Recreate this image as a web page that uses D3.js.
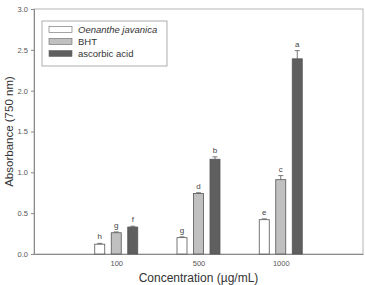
<!DOCTYPE html>
<html>
<head>
<meta charset="utf-8">
<script src="https://d3js.org/d3.v7.min.js"></script>
<style>
  body { margin: 0; background: #fff; }
  text { font-family: "Liberation Sans", Arial, sans-serif; }
</style>
</head>
<body>
<div id="chart"></div>
<script>
// data
var concentrations = ["100", "500", "1000"];
var seriesNames = ["Oenanthe javanica", "BHT", "ascorbic acid"];
var oenanthe = [0.12, 0.20, 0.42];
var bht = [0.26, 0.74, 0.91];
var ascorbic = [0.33, 1.16, 2.39];
var oenantheErr = [0.01, 0.01, 0.01];
var bhtErr = [0.01, 0.01, 0.05];
var ascorbicErr = [0.01, 0.03, 0.10];
var oenantheLetters = ["h", "g", "e"];
var bhtLetters = ["g", "d", "c"];
var ascorbicLetters = ["f", "b", "a"];
var yTicks = [0, 0.5, 1.0, 1.5, 2.0, 2.5, 3.0];

var colors = ["#ffffff", "#c0c0c0", "#5f5f5f"];
var seriesVals = [oenanthe, bht, ascorbic];
var seriesErr = [oenantheErr, bhtErr, ascorbicErr];
var seriesLetters = [oenantheLetters, bhtLetters, ascorbicLetters];

var W = 365, H = 285;
var margin = {top: 9, right: 2, bottom: 31, left: 34};

var svg = d3.select("#chart").append("svg")
    .attr("width", W)
    .attr("height", H);

var x = d3.scaleLinear().domain([0, 4]).range([margin.left, W - margin.right]);
var y = d3.scaleLinear().domain([0, 3]).range([H - margin.bottom, margin.top]);

var barW = 10, step = 16.5;
var axisCol = "#8a8a8a";

// frame
svg.append("rect")
    .attr("x", x(0)).attr("y", y(3))
    .attr("width", x(4) - x(0)).attr("height", y(0) - y(3))
    .attr("fill", "none").attr("stroke", "#b5b5b5").attr("stroke-width", 1);

// y axis
var yAxis = svg.append("g")
    .attr("transform", "translate(" + x(0) + ",0)")
    .call(d3.axisLeft(y).tickValues(yTicks).tickFormat(d3.format(".1f")).tickSize(3).tickPadding(3));
yAxis.select(".domain").attr("stroke", axisCol);
yAxis.selectAll("line").attr("stroke", axisCol);
yAxis.selectAll("text").attr("fill", "#555").style("font-size", "7.5px");

// x axis
var xAxis = svg.append("g")
    .attr("transform", "translate(0," + y(0) + ")")
    .call(d3.axisBottom(x).tickValues([1, 2, 3]).tickFormat(function(d) { return concentrations[d - 1]; }).tickSize(0).tickPadding(7));
xAxis.select(".domain").attr("stroke", axisCol);
xAxis.selectAll("text").attr("fill", "#555").style("font-size", "7.5px");

// bars
seriesVals.forEach(function(vals, s) {
  var g = svg.append("g");
  vals.forEach(function(v, i) {
    var cx = x(i + 1) + (s - 1) * step;
    var top = y(v + seriesErr[s][i]);
    g.append("line")
        .attr("x1", cx).attr("x2", cx)
        .attr("y1", y(v)).attr("y2", top)
        .attr("stroke", "#777").attr("stroke-width", 1);
    g.append("line")
        .attr("x1", cx - 2.5).attr("x2", cx + 2.5)
        .attr("y1", top).attr("y2", top)
        .attr("stroke", "#777").attr("stroke-width", 1);
    g.append("rect")
        .attr("x", cx - barW / 2).attr("y", y(v))
        .attr("width", barW).attr("height", y(0) - y(v))
        .attr("fill", colors[s]).attr("stroke", "#555").attr("stroke-width", 0.8);
    g.append("text")
        .attr("x", cx).attr("y", top - 4)
        .attr("text-anchor", "middle")
        .attr("fill", "#444").style("font-size", "8px")
        .text(seriesLetters[s][i]);
  });
});

// legend
var lg = svg.append("g");
lg.append("rect")
    .attr("x", 42).attr("y", 21).attr("width", 125).attr("height", 45)
    .attr("fill", "#fff").attr("stroke", "#999").attr("stroke-width", 0.8);
seriesNames.forEach(function(name, i) {
  var yy = 29.5 + i * 12;
  lg.append("rect")
      .attr("x", 49).attr("y", yy - 3).attr("width", 23).attr("height", 6)
      .attr("fill", colors[i]).attr("stroke", "#666").attr("stroke-width", 0.6);
  lg.append("text")
      .attr("x", 78).attr("y", yy + 3.5)
      .attr("fill", "#333").style("font-size", "9.5px")
      .style("font-style", i === 0 ? "italic" : "normal")
      .text(name);
});

// axis titles
svg.append("text")
    .attr("transform", "translate(13," + ((y(0) + y(3)) / 2) + ") rotate(-90)")
    .attr("text-anchor", "middle")
    .attr("fill", "#333").style("font-size", "11.5px")
    .text("Absorbance (750 nm)");
svg.append("text")
    .attr("x", (x(0) + x(4)) / 2).attr("y", 282)
    .attr("text-anchor", "middle")
    .attr("fill", "#333").style("font-size", "12px")
    .text("Concentration (\u00b5g/mL)");
</script>
</body>
</html>
